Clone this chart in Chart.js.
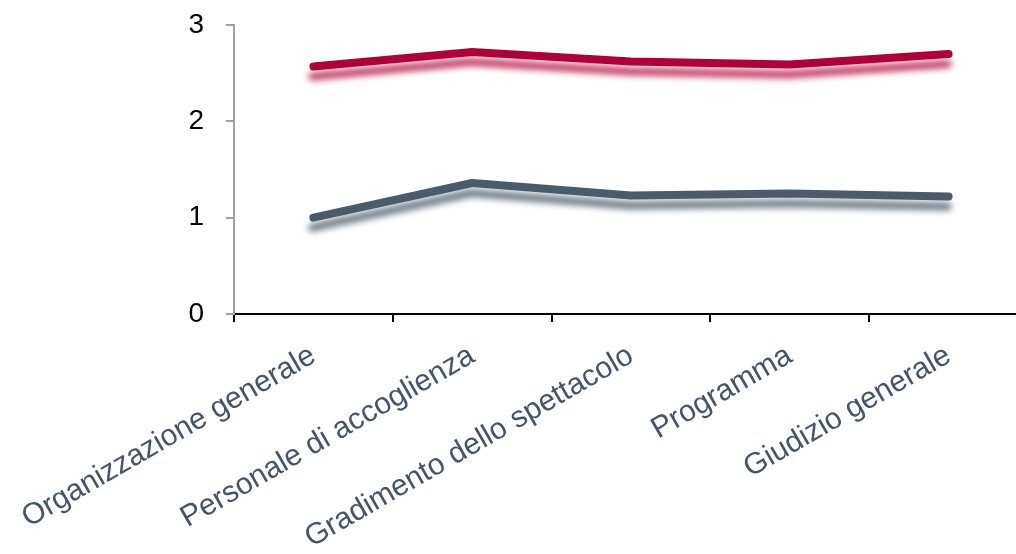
<!DOCTYPE html>
<html>
<head>
<meta charset="utf-8">
<script src="https://cdn.jsdelivr.net/npm/chart.js@4/dist/chart.umd.min.js"></script>
<style>
  html, body { margin: 0; padding: 0; background: #fff; overflow: hidden; }
  #wrap { width: 1030px; height: 554px; }
</style>
</head>
<body>
<div id="wrap"><canvas id="chart" width="1030" height="554"></canvas></div>
<script>
// Data
const categories = ['Organizzazione generale', 'Personale di accoglienza', 'Gradimento dello spettacolo', 'Programma', 'Giudizio generale'];
const seriesRed = [2.57, 2.72, 2.62, 2.59, 2.70];
const seriesSlate = [1.00, 1.36, 1.23, 1.25, 1.22];
const yTicks = [0, 1, 2, 3];

const COLORS = {
  red: '#b0003a',
  redShadow: 'rgba(176, 0, 58, 0.75)',
  slate: '#4a5b69',
  slateShadow: 'rgba(74, 91, 105, 0.8)',
  label: '#44546a',
  axisY: '#a0a0a0',
  axisX: '#000000',
};

// soft drop shadow under each line
const shadowPlugin = {
  id: 'lineShadow',
  beforeDatasetDraw(chart, args) {
    const ds = chart.data.datasets[args.index];
    const ctx = chart.ctx;
    ctx.save();
    ctx.shadowColor = ds.shadowColor;
    ctx.shadowBlur = 6;
    ctx.shadowOffsetX = -1;
    ctx.shadowOffsetY = 10;
  },
  afterDatasetDraw(chart) {
    chart.ctx.restore();
  }
};

new Chart(document.getElementById('chart'), {
  type: 'line',
  data: {
    labels: categories,
    datasets: [
      {
        data: seriesRed,
        borderColor: COLORS.red,
        shadowColor: COLORS.redShadow,
        borderWidth: 8,
        borderCapStyle: 'round',
        borderJoinStyle: 'round',
        pointRadius: 0,
        tension: 0,
      },
      {
        data: seriesSlate,
        borderColor: COLORS.slate,
        shadowColor: COLORS.slateShadow,
        borderWidth: 8,
        borderCapStyle: 'round',
        borderJoinStyle: 'round',
        pointRadius: 0,
        tension: 0,
      }
    ]
  },
  options: {
    responsive: false,
    animation: false,
    layout: { padding: { top: 25, right: 2, left: 0, bottom: 0 } },
    plugins: {
      legend: { display: false },
      tooltip: { enabled: false },
    },
    scales: {
      x: {
        offset: true,
        grid: {
          offset: true,
          drawOnChartArea: false,
          drawTicks: true,
          tickLength: 8,
          color: COLORS.axisX,
          lineWidth: 2,
        },
        border: { display: true, color: COLORS.axisX, width: 2 },
        ticks: {
          color: COLORS.label,
          font: { family: "'Liberation Sans', Arial, sans-serif", size: 30 },
          minRotation: 30,
          maxRotation: 30,
          padding: 16,
          autoSkip: false,
        },
        afterFit: (scale) => {
          scale.height = 240;
          scale.paddingLeft = 0;
          scale.paddingRight = 0;
        },
      },
      y: {
        min: 0,
        max: 3,
        afterBuildTicks: (scale) => { scale.ticks = yTicks.map(v => ({ value: v })); },
        grid: {
          drawOnChartArea: false,
          drawTicks: true,
          tickLength: 8,
          color: COLORS.axisY,
          lineWidth: 2,
        },
        border: { display: true, color: COLORS.axisY, width: 2 },
        ticks: {
          color: '#000',
          font: { family: "'Liberation Sans', Arial, sans-serif", size: 28 },
          padding: 22,
        },
        afterFit: (scale) => {
          scale.width = 234;
          scale.paddingTop = 0;
          scale.paddingBottom = 0;
        },
      }
    }
  },
  plugins: [shadowPlugin]
});
</script>
</body>
</html>
